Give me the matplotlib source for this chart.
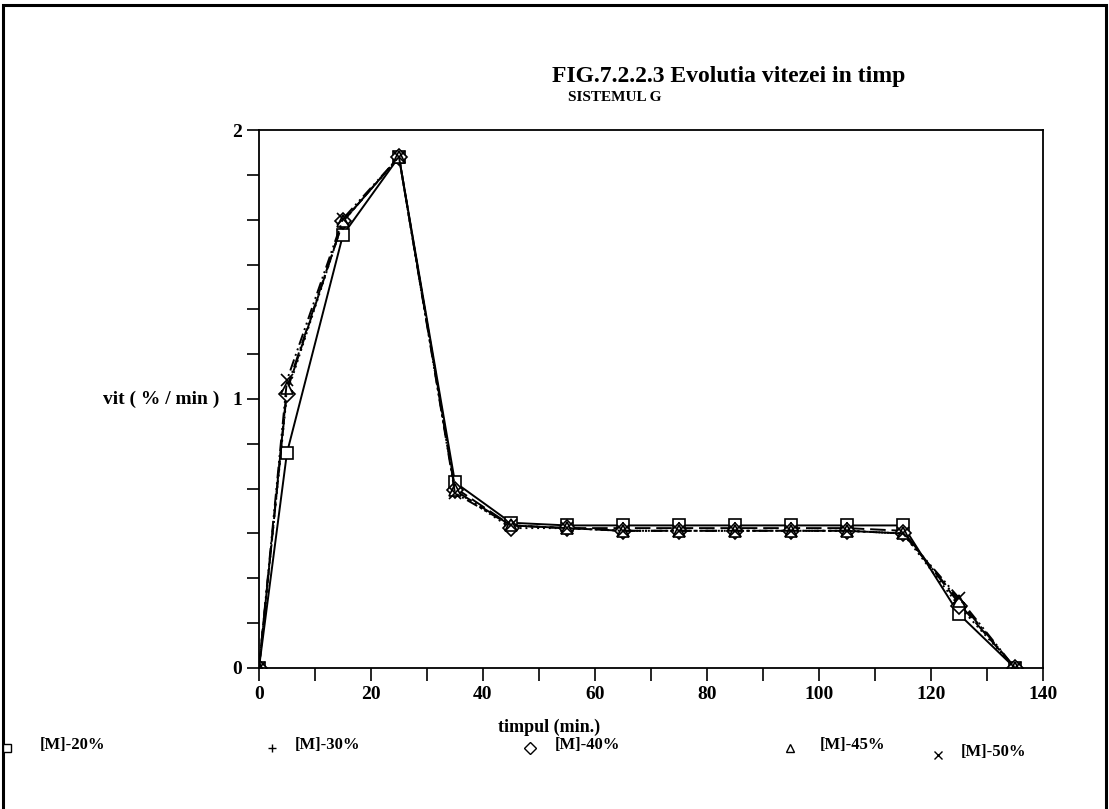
import matplotlib
matplotlib.use("Agg")
import matplotlib.pyplot as plt
from matplotlib.lines import Line2D
from matplotlib.patches import Rectangle
from matplotlib.ticker import MultipleLocator, FixedLocator

plt.rcParams['font.family'] = ['Liberation Serif', 'DejaVu Serif']
plt.rcParams['font.weight'] = 'bold'

time_min = [0, 5, 15, 25, 35, 45, 55, 65, 75, 85, 95, 105, 115, 125, 135]
m20 = [0, 0.80, 1.61, 1.90, 0.69, 0.54, 0.53, 0.53, 0.53, 0.53, 0.53, 0.53, 0.53, 0.20, 0]
m30 = [0, 1.03, 1.66, 1.90, 0.67, 0.53, 0.52, 0.52, 0.52, 0.52, 0.52, 0.52, 0.51, 0.24, 0]
m40 = [0, 1.02, 1.66, 1.90, 0.66, 0.52, 0.52, 0.51, 0.51, 0.51, 0.51, 0.51, 0.50, 0.23, 0]
m45 = [0, 1.04, 1.66, 1.90, 0.66, 0.53, 0.52, 0.51, 0.51, 0.51, 0.51, 0.51, 0.50, 0.25, 0]
m50 = [0, 1.07, 1.67, 1.90, 0.65, 0.53, 0.52, 0.51, 0.51, 0.51, 0.51, 0.51, 0.50, 0.26, 0]
series_labels = ['[M]-20%', '[M]-30%', '[M]-40%', '[M]-45%', '[M]-50%']
x_ticks = [0, 20, 40, 60, 80, 100, 120, 140]
y_ticks = [0, 1, 2]

fig = plt.figure(figsize=(11.09, 8.09), dpi=100)
ax = fig.add_axes([0.2335, 0.1743, 0.707, 0.665])

styles = [
    dict(ls='-', marker='s', mfc='white'),
    dict(ls=(0, (8, 3)), marker='+', mfc='black'),
    dict(ls=(0, (1, 2)), marker='D', mfc='white'),
    dict(ls=(0, (8, 2, 1, 2)), marker='^', mfc='white'),
    dict(ls=(0, (6, 2, 1, 2, 1, 2)), marker='x', mfc='black'),
]
for ys, st in zip([m20, m30, m40, m45, m50], styles):
    ax.plot(time_min, ys, color='black', lw=1.4, ls=st['ls'], marker=st['marker'],
            ms=8, mfc=st['mfc'], mec='black', mew=1.2)

ax.set_xlim(0, 140)
ax.set_ylim(0, 2)
ax.xaxis.set_major_locator(FixedLocator(x_ticks))
ax.xaxis.set_minor_locator(MultipleLocator(10))
ax.yaxis.set_major_locator(FixedLocator(y_ticks))
ax.yaxis.set_minor_locator(MultipleLocator(1 / 6))
ax.tick_params(axis='both', which='both', direction='out', labelsize=14, width=1.2)
ax.tick_params(axis='both', which='major', length=9)
ax.tick_params(axis='both', which='minor', length=9)
ax.tick_params(axis='y', pad=3)
ax.tick_params(axis='x', pad=4)
for sp in ax.spines.values():
    sp.set_linewidth(1.3)

ax.set_ylabel('vit ( % / min )', rotation=0, ha='right', va='center', fontsize=14, fontweight='bold')
ax.yaxis.set_label_coords(-0.05, 0.5)
ax.set_xlabel('timpul (min.)', fontsize=13, fontweight='bold')
ax.xaxis.set_label_coords(0.37, -0.095)

fig.text(0.657, 0.905, 'FIG.7.2.2.3 Evolutia vitezei in timp', ha='center', va='center',
         fontsize=17, fontweight='bold')
fig.text(0.554, 0.879, 'SISTEMUL G', ha='center', va='center', fontsize=11, fontweight='bold')

# legend row drawn as figure-level marker + text pairs
leg_marker_x = [0.006, 0.245, 0.478, 0.712, 0.846]
leg_text_x = [0.036, 0.266, 0.500, 0.739, 0.866]
leg_y = [0.079, 0.079, 0.079, 0.079, 0.071]
for st, lab, mx, tx, ly in zip(styles, series_labels, leg_marker_x, leg_text_x, leg_y):
    fig.add_artist(Line2D([mx], [ly - 0.004], transform=fig.transFigure, color='black', ls='none',
                          marker=st['marker'], ms=6, mfc=st['mfc'], mec='black', mew=1.0))
    fig.text(tx, ly, lab, ha='left', va='center', fontsize=12, fontweight='bold')

fig.patches.append(Rectangle((0.003, -0.05), 0.994, 1.044, transform=fig.transFigure,
                             fill=False, lw=2.2, ec='black'))

fig.savefig('out.png', dpi=100)
